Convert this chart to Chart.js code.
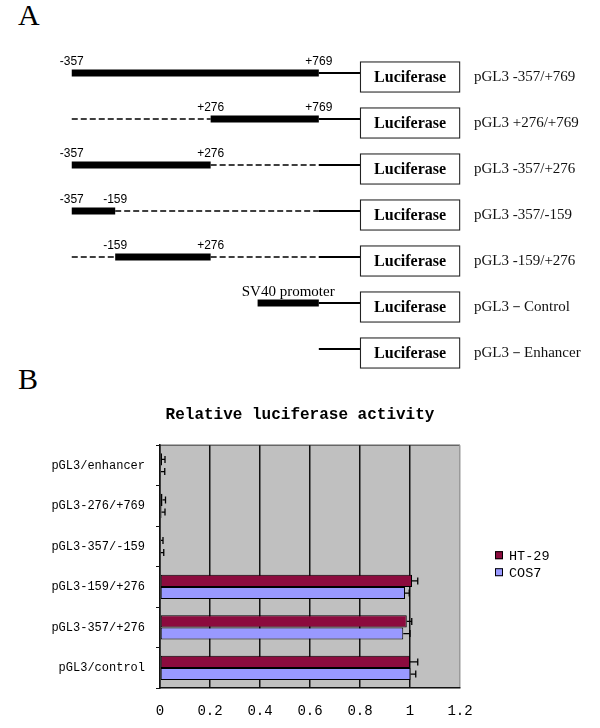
<!DOCTYPE html>
<html>
<head>
<meta charset="utf-8">
<title>Luciferase constructs</title>
<script src="https://cdn.jsdelivr.net/npm/chart.js@4.4.0/dist/chart.umd.min.js"></script>
<style>
body{margin:0;background:#fff;width:600px;height:728px;overflow:hidden;position:relative;font-family:'Liberation Serif',serif}
.panel{position:absolute;left:18px;font-size:30px;line-height:30px;color:#000}
#cA{position:absolute;left:0;top:0}
#cB{position:absolute;left:0;top:385px}
</style>
</head>
<body>
<div class="panel" style="top:0">A</div>
<div class="panel" style="top:364px">B</div>
<canvas id="cA" width="600" height="385"></canvas>
<canvas id="cB" width="600" height="350"></canvas>
<script>
// panel A - constructs, positions in bp
var constructNames = ['pGL3 -357/+769', 'pGL3 +276/+769', 'pGL3 -357/+276', 'pGL3 -357/-159', 'pGL3 -159/+276', 'pGL3－Control', 'pGL3－Enhancer'];
var insertStart = [-357, 276, -357, -357, -159, null, null];
var insertEnd = [769, 769, 276, -159, 276, null, null];
var regionStart = -357, regionEnd = 769;
var promoterRow = 5, promoterStart = 490;
var lucStart = 957, lucEnd = 1413;

// panel B - relative luciferase activity
var categories = ['pGL3/enhancer', 'pGL3-276/+769', 'pGL3-357/-159', 'pGL3-159/+276', 'pGL3-357/+276', 'pGL3/control'];
var ht29 = [0.008, 0.01, 0.004, 1.008, 0.987, 1.0];
var ht29Err = [0.012, 0.012, 0.008, 0.023, 0.02, 0.031];
var cos7 = [0.004, 0.006, 0.003, 0.98, 0.973, 1.002];
var cos7Err = [0.015, 0.014, 0.012, 0.017, 0.027, 0.021];
var xTicks = [0, 0.2, 0.4, 0.6, 0.8, 1, 1.2];

var boxShift = 0.087;

function fmt(v){ return v > 0 ? '+' + v : '' + v; }

// build the line pieces of every construct
var segs = [];
function seg(row, a, b, kind){ if (a < b) segs.push({row: row, a: a, b: b, kind: kind}); }
for (var i = 0; i < constructNames.length; i++) {
	if (insertStart[i] !== null) {
		seg(i, regionStart, insertStart[i], 'dash');
		seg(i, insertStart[i], insertEnd[i], 'thick');
		seg(i, insertEnd[i], regionEnd, 'dash');
	} else if (i == promoterRow) {
		seg(i, promoterStart, regionEnd, 'thick');
	}
	seg(i, regionEnd, lucStart, 'thin');
}

var setsA = [{
	type: 'bar',
	data: constructNames.map(function(n, i){ return {x: [lucStart, lucEnd], y: i + boxShift}; }),
	backgroundColor: '#fff',
	borderColor: '#222',
	borderWidth: 1.3,
	borderSkipped: false,
	barThickness: 31
}];
segs.forEach(function(s){
	setsA.push({
		type: 'line',
		data: [{x: s.a, y: s.row}, {x: s.b, y: s.row}],
		borderColor: '#000',
		borderWidth: s.kind == 'thick' ? 7 : (s.kind == 'thin' ? 2 : 1.5),
		borderDash: s.kind == 'dash' ? [6, 3] : [],
		borderCapStyle: 'butt',
		pointRadius: 0,
		fill: false
	});
});

var labelsA = {
	id: 'labelsA',
	afterDatasetsDraw: function(chart){
		var ctx = chart.ctx, x = chart.scales.x, y = chart.scales.y;
		ctx.save();
		ctx.fillStyle = '#000';
		ctx.textAlign = 'center';
		ctx.textBaseline = 'middle';
		ctx.font = '12px "Liberation Sans", Arial, sans-serif';
		for (var i = 0; i < constructNames.length; i++) {
			if (insertStart[i] === null) continue;
			var yy = y.getPixelForValue(i) - 11;
			ctx.fillText(fmt(insertStart[i]), x.getPixelForValue(insertStart[i]), yy);
			ctx.fillText(fmt(insertEnd[i]), x.getPixelForValue(insertEnd[i]), yy);
		}
		ctx.font = '15px "Liberation Serif", serif';
		ctx.fillText('SV40 promoter', (x.getPixelForValue(promoterStart) + x.getPixelForValue(regionEnd)) / 2, y.getPixelForValue(promoterRow) - 11);
		ctx.font = 'bold 16px "Liberation Serif", serif';
		chart.getDatasetMeta(0).data.forEach(function(bar){
			ctx.fillText('Luciferase', (bar.base + bar.x) / 2, bar.y + 1);
		});
		ctx.restore();
	}
};

new Chart(document.getElementById('cA'), {
	type: 'bar',
	data: {datasets: setsA},
	options: {
		indexAxis: 'y',
		responsive: false,
		animation: false,
		layout: {padding: {top: 50, bottom: 12, left: 0, right: 0}},
		plugins: {legend: {display: false}, tooltip: {enabled: false}},
		scales: {
			x: {type: 'linear', display: false, min: -684, max: 1458},
			y: {
				type: 'linear', position: 'right', reverse: true, min: -0.5, max: 6.5,
				offset: false,
				grid: {display: false, drawTicks: false, offset: false},
				border: {display: false},
				afterBuildTicks: function(s){ s.ticks = constructNames.map(function(n, i){ return {value: i + boxShift}; }); },
				afterFit: function(s){ s.width = 130; },
				ticks: {
					padding: 4, color: '#111',
					font: {family: 'Liberation Serif', size: 15},
					callback: function(v){ return constructNames[Math.round(v)]; }
				}
			}
		}
	},
	plugins: [labelsA]
});

// panel B
var plotBg = {
	id: 'plotBg',
	beforeDraw: function(chart){
		var a = chart.chartArea, ctx = chart.ctx;
		ctx.save();
		ctx.fillStyle = '#C0C0C0';
		ctx.fillRect(a.left, a.top, a.right - a.left, a.bottom - a.top);
		ctx.strokeStyle = '#666';
		ctx.lineWidth = 1.5;
		ctx.beginPath();
		ctx.moveTo(a.left, a.top);
		ctx.lineTo(a.right, a.top);
		ctx.stroke();
		ctx.restore();
	}
};

var errorBars = {
	id: 'errorBars',
	afterDatasetsDraw: function(chart){
		var ctx = chart.ctx, xs = chart.scales.x;
		ctx.save();
		ctx.strokeStyle = '#000';
		ctx.lineWidth = 1.3;
		chart.data.datasets.forEach(function(ds, i){
			chart.getDatasetMeta(i).data.forEach(function(bar, j){
				var end = xs.getPixelForValue(ds.data[j] + ds.errors[j]);
				ctx.beginPath();
				ctx.moveTo(bar.x, bar.y);
				ctx.lineTo(end, bar.y);
				ctx.moveTo(end, bar.y - 3.5);
				ctx.lineTo(end, bar.y + 3.5);
				ctx.stroke();
			});
		});
		ctx.restore();
	}
};

var legendB = {
	id: 'legendB',
	afterDraw: function(chart){
		var a = chart.chartArea, ctx = chart.ctx;
		var mid = (a.top + a.bottom) / 2;
		ctx.save();
		ctx.font = '13.5px "Liberation Mono", monospace';
		ctx.textBaseline = 'middle';
		ctx.textAlign = 'left';
		chart.data.datasets.forEach(function(ds, i){
			var yy = mid - 11.5 + i * 17;
			var xx = a.right + 35;
			ctx.fillStyle = ds.backgroundColor;
			ctx.fillRect(xx, yy - 4, 8, 8);
			ctx.strokeStyle = '#000';
			ctx.lineWidth = 1;
			ctx.strokeRect(xx + 0.5, yy - 3.5, 7, 7);
			ctx.fillStyle = '#000';
			ctx.fillText(ds.label, xx + 14, yy + 1);
		});
		ctx.restore();
	}
};

new Chart(document.getElementById('cB'), {
	type: 'bar',
	data: {
		labels: categories,
		datasets: [
			{label: 'HT-29', data: ht29, errors: ht29Err, backgroundColor: '#8C0B3E', borderColor: '#000', borderWidth: 1, borderSkipped: false, categoryPercentage: 0.6, barPercentage: 1},
			{label: 'COS7', data: cos7, errors: cos7Err, backgroundColor: '#9999FF', borderColor: '#000', borderWidth: 1, borderSkipped: false, categoryPercentage: 0.6, barPercentage: 1}
		]
	},
	options: {
		indexAxis: 'y',
		responsive: false,
		animation: false,
		layout: {padding: {left: 0, right: 0, top: 0, bottom: 0}},
		plugins: {
			legend: {display: false},
			tooltip: {enabled: false},
			title: {
				display: true,
				text: 'Relative luciferase activity',
				color: '#000',
				font: {family: 'Liberation Mono', size: 16, weight: 'bold'},
				padding: {top: 20, bottom: 21}
			}
		},
		scales: {
			x: {
				min: 0, max: 1.2,
				afterBuildTicks: function(s){ s.ticks = xTicks.map(function(v){ return {value: v}; }); },
				grid: {
					drawTicks: false,
					lineWidth: 1.5,
					color: function(c){ return c.tick && c.tick.value >= 1.2 ? '#9a9a9a' : '#111'; }
				},
				border: {display: true, color: '#111', width: 1.5},
				ticks: {
					padding: 15, color: '#000',
					font: {family: 'Liberation Mono', size: 14},
					callback: function(v){ return '' + v; }
				}
			},
			y: {
				type: 'category',
				offset: true,
				grid: {offset: true, drawOnChartArea: false, drawTicks: true, tickLength: 4, color: '#111'},
				border: {display: true, color: '#111', width: 1.5},
				afterFit: function(s){ s.width = 160; },
				ticks: {padding: 11, color: '#000', font: {family: 'Liberation Mono', size: 12}}
			},
			yRight: {
				type: 'category',
				position: 'right',
				grid: {display: false, drawTicks: false},
				border: {display: false},
				ticks: {display: false},
				afterFit: function(s){ s.width = 140; }
			}
		}
	},
	plugins: [plotBg, errorBars, legendB]
});
</script>
</body>
</html>
